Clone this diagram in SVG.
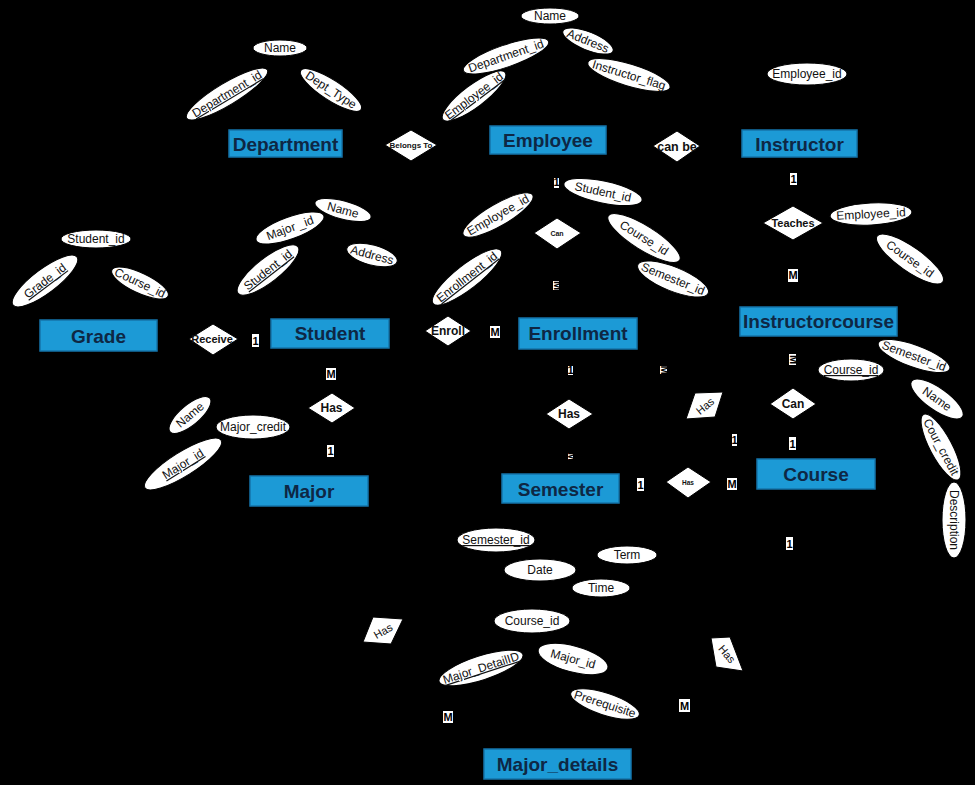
<svg xmlns="http://www.w3.org/2000/svg" width="975" height="785" viewBox="0 0 975 785">
<style>
.ent rect{fill:#1c9ad6;stroke:#1474aa;stroke-width:1.5}
.ent text{font-family:"Liberation Sans",Arial,sans-serif;font-weight:bold;font-size:19px;fill:#0e2744;text-anchor:middle}
.attr ellipse{fill:#fff;stroke:#000;stroke-width:1}
.attr text{font-family:"Liberation Sans",Arial,sans-serif;font-size:12px;fill:#111;text-anchor:middle}
.u{text-decoration:underline}
.rel polygon{fill:#fff;stroke:#000;stroke-width:1}
.rel text{font-family:"Liberation Sans",Arial,sans-serif;font-weight:bold;fill:#111;text-anchor:middle}
.rel text.n{font-weight:normal}
.card rect{fill:#fff}
.card text{font-family:"Liberation Sans",Arial,sans-serif;font-weight:bold;font-size:11px;fill:#000;text-anchor:middle}
.conn line{stroke:#000;stroke-width:1}
</style>
<rect width="975" height="785" fill="#000"/>

<g id="connectors" class="conn">
<line x1="342" y1="144" x2="385" y2="145"/><line x1="437" y1="145" x2="490" y2="140"/>
<line x1="606" y1="141" x2="653" y2="146"/><line x1="700" y1="146" x2="742" y2="144"/>
<line x1="556" y1="154" x2="557" y2="218"/><line x1="557" y1="249" x2="556" y2="318"/>
<line x1="793" y1="157" x2="793" y2="206"/><line x1="793" y1="240" x2="793" y2="307"/>
<line x1="389" y1="333" x2="425" y2="331"/><line x1="471" y1="331" x2="519" y2="333"/>
<line x1="157" y1="336" x2="189" y2="339"/><line x1="238" y1="339" x2="271" y2="334"/>
<line x1="331" y1="348" x2="332" y2="393"/><line x1="332" y1="423" x2="310" y2="476"/>
<line x1="570" y1="349" x2="569" y2="399"/><line x1="569" y1="429" x2="561" y2="474"/>
<line x1="619" y1="488" x2="666" y2="482"/><line x1="711" y1="482" x2="757" y2="475"/>
<line x1="792" y1="336" x2="793" y2="388"/><line x1="793" y1="419" x2="794" y2="459"/>
<line x1="637" y1="345" x2="690" y2="400"/><line x1="718" y1="412" x2="770" y2="459"/>
<line x1="309" y1="506" x2="370" y2="625"/><line x1="395" y1="638" x2="505" y2="749"/>
<line x1="790" y1="489" x2="730" y2="640"/><line x1="736" y1="668" x2="631" y2="764"/>
</g>

<g id="Department" class="ent"><rect x="229" y="130" width="113" height="27"/><text x="285.5" y="150.5">Department</text></g>
<g id="Employee" class="ent"><rect x="490" y="126" width="116" height="28"/><text x="548" y="147">Employee</text></g>
<g id="Instructor" class="ent"><rect x="742" y="130" width="115" height="27"/><text x="799.5" y="150.5">Instructor</text></g>
<g id="Grade" class="ent"><rect x="40" y="320" width="117" height="31"/><text x="98.5" y="342.5">Grade</text></g>
<g id="Student" class="ent"><rect x="271" y="319" width="118" height="29"/><text x="330" y="340">Student</text></g>
<g id="Enrollment" class="ent"><rect x="519" y="318" width="118" height="31"/><text x="578" y="340">Enrollment</text></g>
<g id="Instructorcourse" class="ent"><rect x="740" y="307" width="157" height="29"/><text x="818.5" y="328">Instructorcourse</text></g>
<g id="Major" class="ent"><rect x="250" y="476" width="118" height="30"/><text x="309" y="498">Major</text></g>
<g id="Semester" class="ent"><rect x="502" y="474" width="117" height="29"/><text x="560.5" y="495.5">Semester</text></g>
<g id="Course" class="ent"><rect x="757" y="459" width="118" height="30"/><text x="816" y="481">Course</text></g>
<g id="Major_details" class="ent"><rect x="484" y="749" width="147" height="30"/><text x="557.5" y="771">Major_details</text></g>

<g id="rel-belongs-to" class="rel"><polygon points="385,145 411,130 437,145 411,161"/><text x="411" y="148" font-size="8">Belongs To</text></g>
<g id="rel-can-be" class="rel"><polygon points="653,146 677,131 700,146 677,162"/><text x="677" y="150.5" font-size="12.5">can be</text></g>
<g id="rel-teaches" class="rel"><polygon points="763,223 793,206 823,223 793,240"/><text x="793" y="227" font-size="11">Teaches</text></g>
<g id="rel-can-1" class="rel"><polygon points="534,233 557,218 581,233 557,249"/><text x="557" y="235.5" font-size="7">Can</text></g>
<g id="rel-enroll" class="rel"><polygon points="425,331 448,316 471,331 448,346"/><text x="448" y="335" font-size="12">Enroll</text></g>
<g id="rel-receive" class="rel"><polygon points="189,339 213,324 238,339 213,355"/><text x="212" y="343" font-size="11">Receive</text></g>
<g id="rel-has-major" class="rel"><polygon points="308,408 332,393 355,408 332,423"/><text x="331.5" y="412" font-size="12">Has</text></g>
<g id="rel-has-semester" class="rel"><polygon points="546,414 569,399 593,414 569,429"/><text x="569" y="418" font-size="12">Has</text></g>
<g id="rel-has-course" class="rel"><polygon points="666,482 688,467 711,482 688,498"/><text x="688" y="484.5" font-size="6.5">Has</text></g>
<g id="rel-can-2" class="rel"><polygon points="770,404 793,388 816,404 793,419"/><text x="793" y="408" font-size="12">Can</text></g>
<g id="rel-has-p1" class="rel"><polygon points="686,419 695,393 723,392 715,417"/><text class="n" transform="translate(705,406) rotate(-40)" y="4" font-size="11">Has</text></g>
<g id="rel-has-p2" class="rel"><polygon points="363,642 373,617 403,619 391,644"/><text class="n" transform="translate(383,631) rotate(-30)" y="4" font-size="11">Has</text></g>
<g id="rel-has-p3" class="rel"><polygon points="711,638 730,637 743,671 716,667"/><text class="n" transform="translate(727,654) rotate(50)" y="4" font-size="11">Has</text></g>

<g id="attr-dept-name" class="attr"><ellipse cx="280" cy="48" rx="27" ry="8"/><text x="280" y="52">Name</text></g>
<g id="attr-dept-id" class="attr" transform="translate(227,94) rotate(-31)"><ellipse rx="47" ry="11"/><text y="4" class="u">Department_id</text></g>
<g id="attr-dept-type" class="attr" transform="translate(331,90) rotate(33)"><ellipse rx="36" ry="10"/><text y="4">Dept_Type</text></g>

<g id="attr-emp-name" class="attr"><ellipse cx="550" cy="16" rx="29" ry="8"/><text x="550" y="20">Name</text></g>
<g id="attr-emp-address" class="attr" transform="translate(588,41) rotate(22)"><ellipse rx="27" ry="9"/><text y="4">Address</text></g>
<g id="attr-emp-dept" class="attr" transform="translate(506,56) rotate(-19)"><ellipse rx="45" ry="11"/><text y="4">Department_id</text></g>
<g id="attr-emp-id" class="attr" transform="translate(474,96) rotate(-37)"><ellipse rx="39" ry="11"/><text y="4" class="u">Employee_id</text></g>
<g id="attr-emp-flag" class="attr" transform="translate(629,75) rotate(17)"><ellipse rx="43" ry="11"/><text y="4">Instructor_flag</text></g>
<g id="attr-ins-emp" class="attr"><ellipse cx="807" cy="74" rx="40" ry="11"/><text x="807" y="78">Employee_id</text></g>

<g id="attr-grade-student" class="attr"><ellipse cx="96" cy="239" rx="35" ry="9"/><text x="96" y="243">Student_id</text></g>
<g id="attr-grade-id" class="attr" transform="translate(45,281) rotate(-37)"><ellipse rx="40" ry="12"/><text y="4" class="u">Grade_id</text></g>
<g id="attr-grade-course" class="attr" transform="translate(140,283) rotate(25)"><ellipse rx="31" ry="10"/><text y="4" font-size="11">Course_id</text></g>

<g id="attr-stu-major" class="attr" transform="translate(290,228) rotate(-20)"><ellipse rx="36" ry="11"/><text y="4">Major _id</text></g>
<g id="attr-stu-name" class="attr" transform="translate(343,210) rotate(15)"><ellipse rx="29" ry="9"/><text y="4">Name</text></g>
<g id="attr-stu-address" class="attr" transform="translate(372,255) rotate(15)"><ellipse rx="26" ry="10"/><text y="4" font-size="11">Address</text></g>
<g id="attr-stu-id" class="attr" transform="translate(268,270) rotate(-38)"><ellipse rx="38" ry="12"/><text y="4" class="u">Student_id</text></g>

<g id="attr-enr-student" class="attr" transform="translate(603,192) rotate(12)"><ellipse rx="40" ry="11"/><text y="4">Student_id</text></g>
<g id="attr-enr-emp" class="attr" transform="translate(498,215) rotate(-30)"><ellipse rx="40" ry="11"/><text y="4">Employee_id</text></g>
<g id="attr-enr-course" class="attr" transform="translate(644,238) rotate(32)"><ellipse rx="42" ry="12"/><text y="4">Course_id</text></g>
<g id="attr-enr-sem" class="attr" transform="translate(673,279) rotate(22)"><ellipse rx="38" ry="12"/><text y="4">Semester_id</text></g>
<g id="attr-enr-id" class="attr" transform="translate(467,277) rotate(-38)"><ellipse rx="43" ry="12"/><text y="4" class="u">Enrollment_id</text></g>

<g id="attr-ic-emp" class="attr" transform="translate(871,214) rotate(-3)"><ellipse rx="41" ry="11"/><text y="4">Employee_id</text></g>
<g id="attr-ic-course" class="attr" transform="translate(910,259) rotate(35)"><ellipse rx="40" ry="12"/><text y="4">Course_id</text></g>

<g id="attr-course-sem" class="attr" transform="translate(914,356) rotate(20)"><ellipse rx="38" ry="11"/><text y="4">Semester_id</text></g>
<g id="attr-course-id" class="attr"><ellipse cx="851" cy="370" rx="33" ry="11"/><text x="851" y="374" class="u">Course_id</text></g>
<g id="attr-course-name" class="attr" transform="translate(937,399) rotate(35)"><ellipse rx="31" ry="11"/><text y="4">Name</text></g>
<g id="attr-course-credit" class="attr" transform="translate(941,447) rotate(62)"><ellipse rx="37" ry="11"/><text y="4">Cour_credit</text></g>
<g id="attr-course-desc" class="attr" transform="translate(954,520) rotate(90)"><ellipse rx="38" ry="12"/><text y="4">Description</text></g>

<g id="attr-major-name" class="attr" transform="translate(190,415) rotate(-40)"><ellipse rx="26" ry="10"/><text y="4">Name</text></g>
<g id="attr-major-credit" class="attr"><ellipse cx="253" cy="427" rx="37" ry="12"/><text x="253" y="431">Major_credit</text></g>
<g id="attr-major-id" class="attr" transform="translate(183,464) rotate(-32)"><ellipse rx="45" ry="12"/><text y="4" class="u">Major_id</text></g>

<g id="attr-sem-id" class="attr"><ellipse cx="496" cy="540" rx="39" ry="12"/><text x="496" y="544" class="u">Semester_id</text></g>
<g id="attr-sem-term" class="attr"><ellipse cx="627" cy="555" rx="30" ry="9"/><text x="627" y="559">Term</text></g>
<g id="attr-sem-date" class="attr"><ellipse cx="540" cy="570" rx="36" ry="11"/><text x="540" y="574">Date</text></g>
<g id="attr-sem-time" class="attr"><ellipse cx="601" cy="588" rx="29" ry="9"/><text x="601" y="592">Time</text></g>

<g id="attr-md-course" class="attr"><ellipse cx="532" cy="621" rx="38" ry="12"/><text x="532" y="625">Course_id</text></g>
<g id="attr-md-major" class="attr" transform="translate(573,659) rotate(15)"><ellipse rx="36" ry="13"/><text y="4">Major_id</text></g>
<g id="attr-md-id" class="attr" transform="translate(481,668) rotate(-18)"><ellipse rx="44" ry="12"/><text y="4" class="u">Major_DetailID</text></g>
<g id="attr-md-prereq" class="attr" transform="translate(605,704) rotate(18)"><ellipse rx="36" ry="11"/><text y="4">Prerequisite</text></g>

<g id="cardinalities" class="card">
<rect x="252" y="334" width="7" height="13"/><text x="255.5" y="345">1</text>
<rect x="326" y="368" width="10" height="12"/><text x="331" y="378">M</text>
<rect x="327" y="445" width="7" height="12"/><text x="330.5" y="455">1</text>
<rect x="554" y="178" width="5" height="10"/><text x="556.5" y="186" font-size="8">1</text>
<rect x="553" y="281" width="6" height="9"/><text transform="translate(556,285.5) rotate(90)" y="2.5" font-size="7">M</text>
<rect x="790" y="173" width="7" height="12"/><text x="793.5" y="183">1</text>
<rect x="788" y="269" width="10" height="13"/><text x="793" y="279">M</text>
<rect x="490" y="326" width="10" height="12"/><text x="495" y="336">M</text>
<rect x="789" y="354" width="7" height="11"/><text transform="translate(792.5,359.5) rotate(90)" y="3" font-size="8">M</text>
<rect x="660" y="366" width="7" height="8"/><text transform="translate(663.5,370) rotate(90)" y="2.5" font-size="7">M</text>
<rect x="568" y="366" width="5" height="9"/><text x="570.5" y="374" font-size="8">1</text>
<rect x="568" y="453" width="5" height="7"/><text transform="translate(570.5,456.5) rotate(90)" y="2.5" font-size="6">M</text>
<rect x="637" y="478" width="7" height="13"/><text x="640.5" y="489">1</text>
<rect x="727" y="478" width="10" height="12"/><text x="732" y="488">M</text>
<rect x="732" y="434" width="5" height="12"/><text x="734.5" y="444">1</text>
<rect x="789" y="437" width="7" height="13"/><text x="792.5" y="448">1</text>
<rect x="786" y="537" width="7" height="13"/><text x="789.5" y="548">1</text>
<rect x="443" y="711" width="10" height="12"/><text x="448" y="721">M</text>
<rect x="679" y="699" width="11" height="13"/><text x="684.5" y="709.5">M</text>
</g>
</svg>
